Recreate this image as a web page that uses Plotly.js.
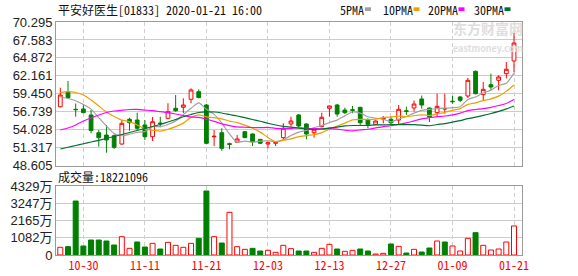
<!DOCTYPE html>
<html>
<head>
<meta charset="utf-8">
<script src="https://cdn.plot.ly/plotly-3.0.1.min.js"></script>
<style>
html,body{margin:0;padding:0;background:#fff;}
#chart{width:578px;height:276px;}
</style>
</head>
<body>
<div id="chart"></div>
<script>
// ---- data ----
const dates = ['10-25','10-28','10-29','10-30','10-31','11-01','11-04','11-05','11-06','11-07',
  '11-08','11-11','11-12','11-13','11-14','11-15','11-18','11-19','11-20','11-21',
  '11-22','11-25','11-26','11-27','11-28','11-29','12-02','12-03','12-04','12-05',
  '12-06','12-09','12-10','12-11','12-12','12-13','12-16','12-17','12-18','12-19',
  '12-20','12-23','12-24','12-27','12-30','12-31','01-02','01-03','01-06','01-07',
  '01-08','01-09','01-10','01-13','01-14','01-15','01-16','01-17','01-20','01-21'];

const openP = [57.49,59.76,57.10,57.15,56.24,53.56,53.21,53.11,51.85,55.59,
  55.48,54.73,52.96,55.03,55.74,57.25,57.40,58.61,59.76,57.75,
  52.94,53.56,51.90,52.11,53.71,53.37,52.56,51.85,51.96,52.81,
  54.88,56.24,54.88,53.56,54.47,57.25,57.75,56.99,57.02,57.40,
  55.48,54.83,55.63,55.59,55.48,56.87,57.30,58.66,57.30,56.59,
  57.15,58.32,58.96,59.11,62.84,59.31,60.82,61.48,62.48,64.40];
const highP = [60.36,61.38,57.98,57.85,56.99,53.97,54.73,53.29,55.48,55.83,
  56.59,55.48,55.94,55.98,58.01,59.26,58.76,60.27,60.12,57.90,
  53.97,54.23,52.05,53.21,53.82,53.44,52.61,52.20,52.20,54.98,
  55.98,56.39,54.95,54.20,56.59,57.67,57.90,57.34,57.60,57.45,
  55.74,55.41,56.09,55.98,57.75,57.49,58.43,59.18,57.37,59.46,
  59.46,59.11,59.11,61.83,62.96,61.23,62.48,62.24,64.25,68.63];
const lowP = [57.40,58.76,55.98,56.54,53.47,51.45,50.54,51.10,51.75,53.87,
  53.97,52.46,52.31,54.38,55.59,56.74,56.54,58.01,58.76,51.85,
  51.55,50.84,51.05,52.05,52.76,51.55,51.85,51.20,51.55,52.35,
  54.47,54.42,52.56,52.81,54.38,55.98,55.98,56.39,56.49,54.73,
  54.23,54.80,54.98,54.88,54.73,56.24,56.77,57.19,55.18,55.91,
  56.43,57.93,58.19,58.81,59.34,58.46,59.97,59.97,61.76,62.69];
const closeP = [59.26,58.85,57.05,56.59,53.90,52.81,52.46,51.36,54.98,55.07,
  54.23,52.96,55.22,54.92,56.74,56.89,57.75,60.02,58.88,51.96,
  53.02,51.20,51.81,52.61,52.81,52.20,51.96,52.05,52.08,54.23,
  55.33,54.58,53.37,54.08,55.89,57.60,56.39,56.59,56.96,55.07,
  54.83,55.33,55.74,55.07,57.10,56.81,57.90,57.75,55.94,57.55,
  57.19,58.26,58.46,61.48,59.46,60.12,60.47,61.98,63.15,67.12];
const closeBefore = 57.40; // close of the day before the window

const ma5 = [59.00,58.73,58.40,57.83,57.13,55.84,54.56,53.42,53.10,53.34,
  53.62,53.72,54.49,54.48,54.81,55.35,56.30,57.26,58.06,57.10,
  56.33,55.02,53.37,52.12,52.29,52.13,52.28,52.33,52.22,52.50,
  53.13,53.65,53.92,54.32,54.65,55.10,55.47,56.11,56.69,56.52,
  55.97,55.76,55.59,55.21,55.61,56.01,56.52,56.93,57.10,57.19,
  57.27,57.34,57.48,58.59,58.97,59.56,60.00,60.70,61.04,62.57];
const ma10 = [59.64,59.76,59.64,59.26,58.51,57.60,56.69,56.01,55.46,55.23,
  54.73,54.14,53.96,53.79,54.08,54.48,55.01,55.88,56.27,55.96,
  55.84,55.66,55.32,55.09,54.70,54.23,53.65,52.85,52.17,52.40,
  52.63,52.97,53.12,53.27,53.58,54.12,54.56,55.01,55.50,55.59,
  55.54,55.61,55.85,55.95,56.07,55.99,56.14,56.26,56.15,56.40,
  56.64,56.93,57.20,57.84,58.08,58.41,58.67,59.09,59.81,60.77];
const ma20 = [53.97,54.27,54.73,55.33,55.78,56.24,56.62,56.84,56.96,57.07,
  57.10,56.99,56.89,56.74,56.59,56.39,56.16,55.94,55.87,55.60,
  55.28,54.90,54.64,54.44,54.39,54.35,54.33,54.36,54.22,54.18,
  54.23,54.31,54.22,54.18,54.14,54.17,54.10,53.93,53.84,53.99,
  54.08,54.29,54.49,54.61,54.82,55.05,55.35,55.64,55.83,55.99,
  56.09,56.27,56.53,56.90,57.07,57.20,57.40,57.67,57.98,58.59];
const ma30 = [51.10,51.37,51.63,51.89,52.16,52.41,52.69,52.99,53.29,53.59,
  53.90,54.20,54.50,54.80,55.18,55.56,55.97,56.31,56.62,56.72,
  56.69,56.54,56.31,56.09,55.83,55.56,55.29,54.99,54.73,54.53,
  54.40,54.26,54.13,54.05,54.12,54.28,54.41,54.58,54.65,54.65,
  54.67,54.75,54.76,54.77,54.78,54.78,54.78,54.71,54.61,54.80,
  54.93,55.17,55.39,55.69,55.91,56.17,56.46,56.79,57.16,57.59];

// volume in units of 万 (10,000 shares)
const volume = [483,523,3388,565,941,941,878,627,1150,418,
  816,502,732,376,795,606,483,732,1046,4015,
  1150,753,2677,523,356,418,251,293,167,606,
  397,251,251,167,418,669,376,230,293,376,
  251,63,105,690,544,125,356,188,439,878,
  816,565,251,1046,1401,606,314,376,816,1822];

const xTickDates = ['10-30','11-11','11-21','12-03','12-13','12-27','01-09','01-21'];
const priceTicks = [48.605,51.317,54.028,56.739,59.450,62.161,64.872,67.583,70.295];
const priceTickText = ['48.605','51.317','54.028','56.739','59.450','62.161','64.872','67.583','70.295'];
const volTicks = [0,1082,2165,3247,4329];
const volTickText = ['0','1082万','2165万','3247万','4329万'];

const titleText = '平安好医生[01833] 2020-01-21 16:00';
const volLabel = '成交量:18221096';
const maNames = ['5PMA','10PMA','20PMA','30PMA'];

// ---- styling ----
const RED = '#ff0000', GREEN = '#008000';
const maColors = ['#a0a0a0','#f0a000','#ff00ff','#006f2f'];
const monoFont = "'Noto Sans Mono CJK SC','DejaVu Sans Mono',monospace";
const W = 578, H = 276, ML = 56, MR = 56, MT = 22, MB = 21;
const PW = W - ML - MR, PH = H - MT - MB;
const px2x = x => (x - ML) / PW;
const px2y = y => (H - MB - y) / PH;

const upDown = closeP.map((c, i) => c >= (i === 0 ? closeBefore : closeP[i - 1]));
const volFill = upDown.map(u => u ? '#ffffff' : GREEN);
const volLine = upDown.map(u => u ? RED : GREEN);

const traces = [
  {type:'candlestick', x:dates, open:openP, high:highP, low:lowP, close:closeP,
   xaxis:'x', yaxis:'y', whiskerwidth:0,
   increasing:{line:{color:RED, width:1}, fillcolor:'#ffffff'},
   decreasing:{line:{color:GREEN, width:1}, fillcolor:GREEN},
   hoverinfo:'skip'},
];
[ma5, ma10, ma20, ma30].forEach((m, k) => {
  traces.push({type:'scatter', mode:'lines', x:dates, y:m, xaxis:'x', yaxis:'y',
    line:{color:maColors[k], width:1.2, shape:'spline', smoothing:0.6}, hoverinfo:'skip'});
});
traces.push({type:'bar', x:dates, y:volume, xaxis:'x2', yaxis:'y2',
  marker:{color:volFill, line:{color:volLine, width:1}}, hoverinfo:'skip'});

const gridX = {showgrid:true, gridcolor:'#cfcfcf', gridwidth:1, griddash:'4px,3px',
  showline:true, mirror:true, linecolor:'#9a9a9a', linewidth:1, zeroline:false, ticks:''};
const gridY = {showgrid:true, gridcolor:'#cccccc', gridwidth:1,
  showline:true, mirror:true, linecolor:'#9a9a9a', linewidth:1, zeroline:false, ticks:'',
  tickfont:{family:"'Liberation Sans','Noto Sans CJK SC',sans-serif", size:13, color:'#222'}};

const legendX = [338, 380.5, 425.5, 471.5];
const annotations = [
  {xref:'paper', yref:'paper', x:px2x(56), y:px2y(9.2), xanchor:'left', yanchor:'middle',
   text:titleText, showarrow:false, font:{family:monoFont, size:12, color:'#111'}},
  {xref:'paper', yref:'paper', x:px2x(56), y:px2y(176.8), xanchor:'left', yanchor:'middle',
   text:volLabel, showarrow:false, font:{family:monoFont, size:12, color:'#111'}},
  {xref:'paper', yref:'paper', x:px2x(488), y:px2y(36.5), xanchor:'center', yanchor:'middle',
   text:'<b>东方财富网</b><br><b><span style="font-size:9px">eastmoney.com</span></b>',
   showarrow:false, align:'center',
   font:{family:"'Noto Sans CJK SC',sans-serif", size:14, color:'#dedede'}},
];
const shapes = [];
maNames.forEach((n, k) => {
  annotations.push({xref:'paper', yref:'paper', x:px2x(legendX[k]), y:px2y(9.2), xanchor:'left', yanchor:'middle',
    text:n, showarrow:false, font:{family:monoFont, size:12, color:'#111'}});
  const sx = legendX[k] + n.length * 6 + 3;
  shapes.push({type:'rect', xref:'paper', yref:'paper', x0:px2x(sx), x1:px2x(sx + 6),
    y0:px2y(11), y1:px2y(7.3), fillcolor:maColors[k], line:{width:0}});
});

const layout = {
  width:W, height:H, margin:{l:ML, r:MR, t:MT, b:MB, pad:0},
  paper_bgcolor:'#ffffff', plot_bgcolor:'#ffffff', showlegend:false, hovermode:false,
  bargap:0.35,
  xaxis: Object.assign({}, gridX, {type:'category', anchor:'y', domain:[0,1],
    range:[-0.56, 60.04], tickvals:xTickDates, showticklabels:false,
    rangeslider:{visible:false}, fixedrange:true}),
  xaxis2: Object.assign({}, gridX, {type:'category', anchor:'y2', domain:[0,1], matches:'x',
    range:[-0.56, 60.04], tickvals:xTickDates, ticktext:xTickDates,
    tickfont:{family:monoFont, size:12, color:'#ff0000'}, fixedrange:true}),
  yaxis: Object.assign({}, gridY, {anchor:'x', domain:[px2y(165.5), 1], range:[48.605, 70.295],
    tickvals:priceTicks, ticktext:priceTickText, fixedrange:true}),
  yaxis2: Object.assign({}, gridY, {anchor:'x2', domain:[0, px2y(186)], range:[0, 4329],
    tickvals:volTicks, ticktext:volTickText, fixedrange:true}),
  annotations:annotations, shapes:shapes
};

Plotly.newPlot('chart', traces, layout, {staticPlot:true, displayModeBar:false});
</script>
</body>
</html>
